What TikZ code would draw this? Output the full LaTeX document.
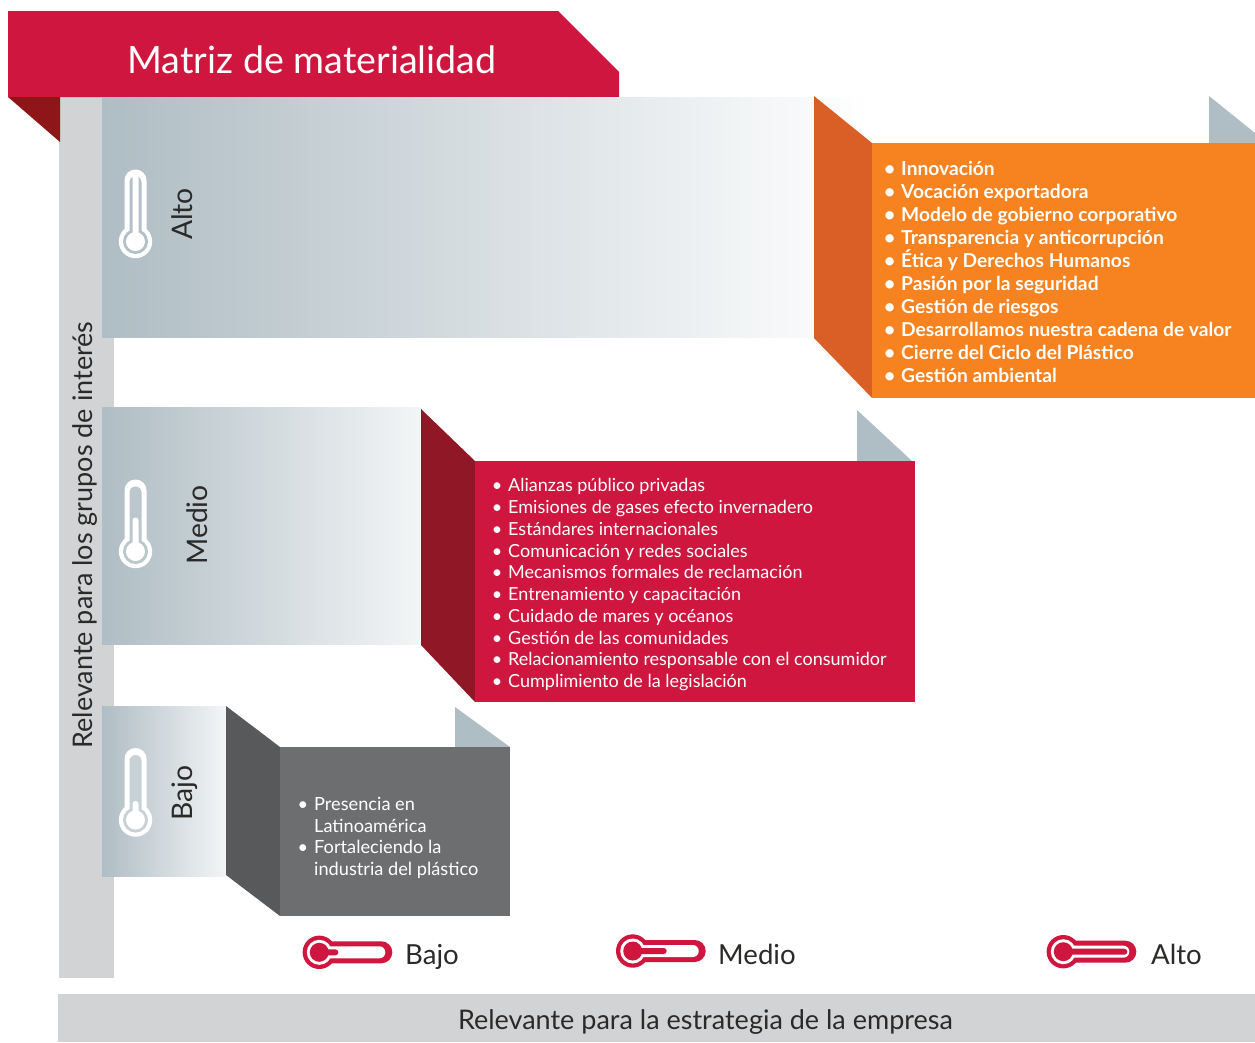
\documentclass[tikz,border=0pt]{standalone}
\usepackage{fontspec}
\setmainfont{Lato}
\usepackage{tikz}
\definecolor{crimson}{HTML}{CE163F}
\definecolor{darkred}{HTML}{8F1726}
\definecolor{foldred}{HTML}{8E1518}
\definecolor{orangebox}{HTML}{F68220}
\definecolor{orangeside}{HTML}{D95F27}
\definecolor{graybox}{HTML}{6D6E70}
\definecolor{grayside}{HTML}{58595B}
\definecolor{steel}{HTML}{AFBDC4}
\definecolor{panel}{HTML}{D1D3D4}
\definecolor{ink}{HTML}{2B2A29}
\tikzset{
  lablaxis/.style={text=ink, inner sep=0pt, font=\fontsize{27}{27}\selectfont},
  lablmed/.style={text=ink, inner sep=0pt, font=\fontsize{28.3}{28.3}\selectfont},
  lablleg/.style={text=ink, inner sep=0pt, anchor=base west, font=\fontsize{27.6}{27.6}\selectfont},
  lablitem/.style={text=white, inner sep=0pt, anchor=base west, font=\fontsize{18}{18}\selectfont},
}
\newcommand{\band}[4]{\shade[left color=steel, right color=#4] (102,#1) rectangle (#3,#2);}
\newcommand{\thermoup}[4]{
  \fill[white] (#1,#2) circle (16.7);
  \fill[white, rounded corners=10.9pt] (#1-11,#2) rectangle (#1+11,#2-72);
  \fill[#4] (#1,#2) circle (12.5);
  \fill[#4, rounded corners=5.9pt] (#1-6,#2) rectangle (#1+6,#2-65);
  \fill[white] (#1,#2) circle (9.5);
  \fill[white, rounded corners=2.9pt] (#1-3,#2) rectangle (#1+3,#2-#3);
}
\newcommand{\thermoside}[3]{
  \fill[crimson] (#1,#2) circle (16.7);
  \fill[crimson, rounded corners=10.9pt] (#1,#2-11) rectangle (#1+73,#2+11);
  \fill[white] (#1,#2) circle (12.5);
  \fill[white, rounded corners=5.9pt] (#1,#2-6) rectangle (#1+66,#2+6);
  \fill[crimson] (#1,#2) circle (9.5);
  \fill[crimson, rounded corners=2.9pt] (#1,#2-3) rectangle (#1+#3,#2+3);
}
\begin{document}
\begin{tikzpicture}[x=1pt,y=-1pt]
  \useasboundingbox (0,0) rectangle (1255,1042);

  % axes
  \fill[panel] (59,97) rectangle (114,978);
  \fill[panel] (58,994) rectangle (1255,1042);
  \node[lablaxis, rotate=90] (axisy) at (85,535) {Relevante para los grupos de interés};
  \node[lablaxis] (axisx) at (705.5,1022) {Relevante para la estrategia de la empresa};

  % title
  \fill[crimson] (8,11) -- (558,11) -- (619,72) -- (619,97) -- (8,97) -- cycle;
  \fill[foldred] (8,97) -- (60,97) -- (60,142) -- cycle;
  \node[text=white, inner sep=0pt, font=\fontsize{37.6}{37.6}\selectfont] (title) at (312,60) {Matriz de materialidad};

  % alto
  \band{97}{337.5}{870}{white}
  \fill[steel] (1209,96) -- (1255,133) -- (1255,143) -- (1209,143) -- cycle;
  \fill[orangeside] (814,96) -- (872,143) -- (872,398) -- (814,338) -- cycle;
  \fill[orangebox] (872,143) rectangle (1255,398);
  \thermoup{135.5}{241.5}{66}{steel!95!white}
  \node[lablmed, rotate=90] (alto) at (182,214) {Alto};
  \foreach \txt [count=\i] in {Innovación,Vocación exportadora,Modelo de gobierno corporativo,Transparencia y anticorrupción,Ética y Derechos Humanos,Pasión por la seguridad,Gestión de riesgos,Desarrollamos nuestra cadena de valor,Cierre del Ciclo del Plástico,Gestión ambiental}
    \node[lablitem, font=\fontsize{19.2}{19.2}\bfseries] (orange\i) at (901,{152+23*\i}) {\llap{\textbullet\hspace{6pt}}\txt};

  % medio
  \band{407}{644.5}{421}{steel!15!white}
  \fill[steel] (857,410) -- (912,461) -- (857,461) -- cycle;
  \fill[darkred] (421,409) -- (475,461) -- (475,702) -- (421,645) -- cycle;
  \fill[crimson] (475,461) rectangle (915,702);
  \thermoup{135.5}{551.5}{34}{steel!85!white}
  \node[lablmed, rotate=90] (medio) at (197,525) {Medio};
  \foreach \txt [count=\i] in {Alianzas público privadas,Emisiones de gases efecto invernadero,Estándares internacionales,Comunicación y redes sociales,Mecanismos formales de reclamación,Entrenamiento y capacitación,Cuidado de mares y océanos,Gestión de las comunidades,Relacionamiento responsable con el consumidor,Cumplimiento de la legislación}
    \node[lablitem] (red\i) at (508,{470+21.75*\i}) {\llap{\textbullet\hspace{6pt}}\txt};

  % bajo
  \band{706}{876.5}{226}{steel!15!white}
  \fill[steel] (455,707) -- (510,747) -- (455,747) -- cycle;
  \fill[grayside] (226,706) -- (280,747) -- (280,916) -- (226,875) -- cycle;
  \fill[graybox] (280,747) rectangle (510,916);
  \thermoup{135.5}{820}{19}{steel!70!white}
  \node[lablmed, rotate=90] (bajo) at (184.5,793) {Bajo};
  \node[lablitem, font=\fontsize{18.2}{18.2}\selectfont] (gray1) at (314,810) {\llap{\textbullet\hspace{6pt}}Presencia en};
  \node[lablitem, font=\fontsize{18.2}{18.2}\selectfont] (gray2) at (314,832) {Latinoamérica};
  \node[lablitem, font=\fontsize{18.2}{18.2}\selectfont] (gray3) at (314,853) {\llap{\textbullet\hspace{6pt}}Fortaleciendo la};
  \node[lablitem, font=\fontsize{18.2}{18.2}\selectfont] (gray4) at (314,875) {industria del plástico};

  % legend
  \thermoside{319.3}{952.3}{19}
  \node[lablleg] (legbajo) at (405,964) {Bajo};
  \thermoside{632.7}{951}{34}
  \node[lablleg] (legmedio) at (718,964) {Medio};
  \thermoside{1063.3}{951.7}{64}
  \node[lablleg] (legalto) at (1151,964) {Alto};
\end{tikzpicture}
\end{document}
